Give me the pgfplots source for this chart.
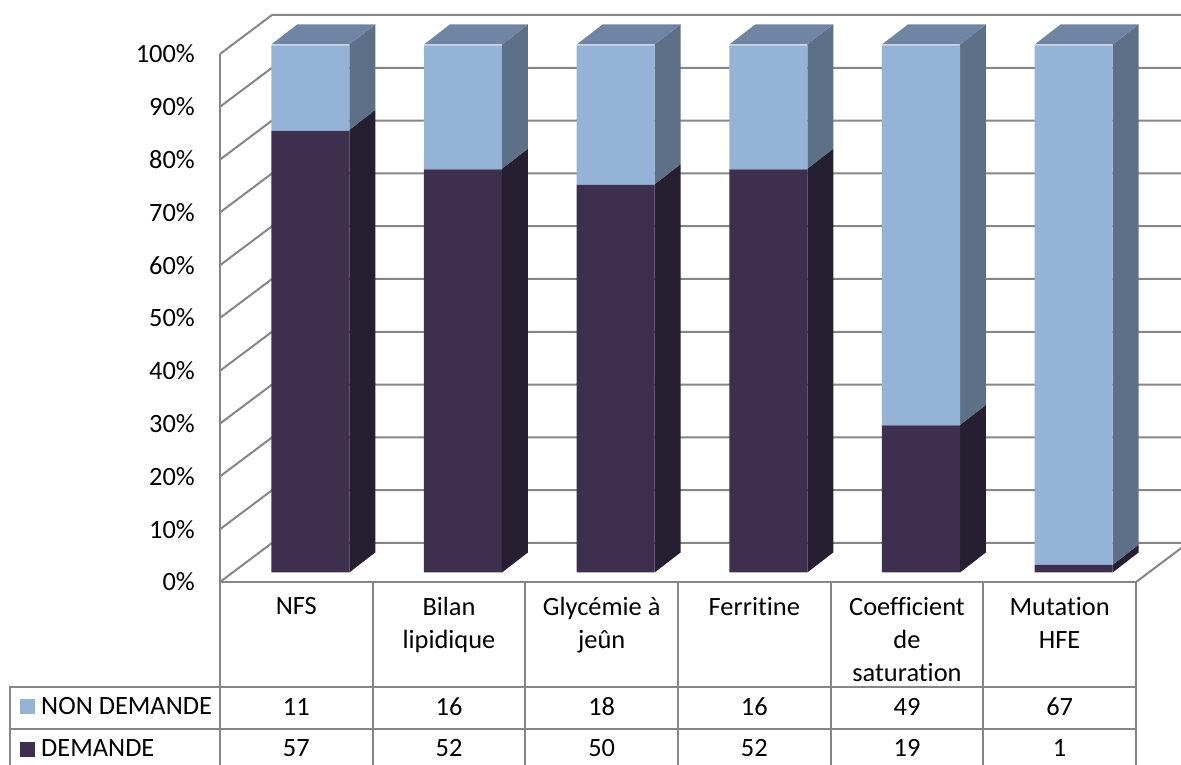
\documentclass[border=0pt]{standalone}
\usepackage{fontspec}
\setmainfont[Ligatures=CommonOff]{Carlito}
\usepackage{pgfplots}
\usepackage{pgfplotstable}
\pgfplotsset{compat=1.18}

\definecolor{lightfront}{HTML}{95B3D7}
\definecolor{lighttop}{HTML}{7085A3}
\definecolor{lightside}{HTML}{5E7088}
\definecolor{darkfront}{HTML}{3E2F4F}
\definecolor{darkside}{HTML}{261E31}
\definecolor{rule}{HTML}{868686}

% share of DEMANDE / NON DEMANDE, in percent of 68 answers
\pgfplotstableread{
pos demande nondemande
0 83.82 16.18
1 76.47 23.53
2 73.53 26.47
3 76.47 23.53
4 27.94 72.06
5 1.47 98.53
}\shares

% right and top faces of one bar: index, percent DEMANDE
\newcommand{\barfaces}[2]{%
  \pgfmathsetmacro{\xa}{#1+0.347}%
  \pgfmathsetmacro{\xb}{#1+0.517}%
  \pgfmathsetmacro{\xc}{#1-0.164}%
  \pgfmathsetmacro{\xd}{#1+0.006}%
  \pgfmathsetmacro{\ya}{1.8+#2}%
  \pgfmathsetmacro{\yb}{5.6+#2}%
  \edef\faces{%
    \noexpand\addplot[fill=darkside,draw=none] coordinates {(\xa,1.8) (\xb,5.6) (\xb,\yb) (\xa,\ya)} --cycle;
    \noexpand\addplot[fill=lightside,draw=none] coordinates {(\xa,\ya) (\xb,\yb) (\xb,105.6) (\xa,101.8)} --cycle;
    \noexpand\addplot[fill=lighttop,draw=none] coordinates {(\xc,101.8) (\xa,101.8) (\xb,105.6) (\xd,105.6)} --cycle;
  }%
  \faces
}

\begin{document}
\begin{tikzpicture}[x=1pt,y=1pt,every node/.style={font=\fontsize{26.4}{33}\selectfont}]
\useasboundingbox (-220,-183) rectangle (961,582);

% walls and gridlines, origin at the front corner of the 0% level
\begin{scope}[draw=rule,line width=2pt]
  \foreach \h in {0,52.8,...,529}
    \draw (0,\h) -- ++(52,39) -- ++(920,0);
  \draw (0,528) -- (0,0);
  \draw (916,0) -- ++(50,37.5);
  % data table grid
  \draw (-210,-183) -- (-210,-105) -- (916,-105);
  \draw (-210,-147) -- (916,-147);
  \draw (0,0) -- (916,0);
  \foreach \c in {0,...,6}
    \draw ({152.67*\c},0) -- ({152.67*\c},-183);
\end{scope}

\begin{axis}[
  scale only axis,width=916pt,height=528pt,
  xmin=-0.5,xmax=5.5,ymin=0,ymax=100,
  clip=false,
  axis line style={draw=none},
  major tick length=0pt,
  ytick={0,10,...,100},
  yticklabels={0\%,10\%,20\%,30\%,40\%,50\%,60\%,70\%,80\%,90\%,100\%},
  yticklabel style={inner sep=0pt,xshift=-25pt},
  xtick={0,...,5},
  xticklabels={NFS,{Bilan\\lipidique},{Glycémie à\\jeûn},Ferritine,{Coefficient\\de\\saturation},{Mutation\\HFE}},
  xticklabel style={align=center,anchor=north,inner sep=0pt,yshift=-15pt},
]
\barfaces{0}{83.82}
\barfaces{1}{76.47}
\barfaces{2}{73.53}
\barfaces{3}{76.47}
\barfaces{4}{27.94}
\barfaces{5}{1.47}
\end{axis}

\begin{axis}[
  at={(14pt,9.5pt)},
  scale only axis,width=916pt,height=527pt,
  xmin=-0.5,xmax=5.5,ymin=0,ymax=100,
  clip=false,
  axis line style={draw=none},
  major tick length=0pt,
  xtick=\empty,ytick=\empty,
  ybar stacked,bar width=78pt,
  reverse legend,
  legend cell align=left,
  legend style={at={(axis description cs:-0.2336,-0.295)},anchor=west,draw=none,fill=none,
    inner sep=0pt,row sep=20pt,column sep=4pt,font=\fontsize{26.4}{33}\selectfont},
  legend image code/.code={\fill[#1] (0pt,-7.5pt) rectangle (15pt,7.5pt);},
]
\addplot[fill=darkfront,draw=none] table[x=pos,y=demande] {\shares};
\addplot[fill=lightfront,draw=none] table[x=pos,y=nondemande] {\shares};
\addlegendentry{DEMANDE}
\addlegendentry{NON DEMANDE}
\end{axis}

% counts in the data table
\foreach \c/\n/\d in {0/11/57,1/16/52,2/18/50,3/16/52,4/49/19,5/67/1} {
  \node at ({76.33+152.67*\c},-125) {\n};
  \node at ({76.33+152.67*\c},-166) {\d};
}
\end{tikzpicture}
\end{document}
